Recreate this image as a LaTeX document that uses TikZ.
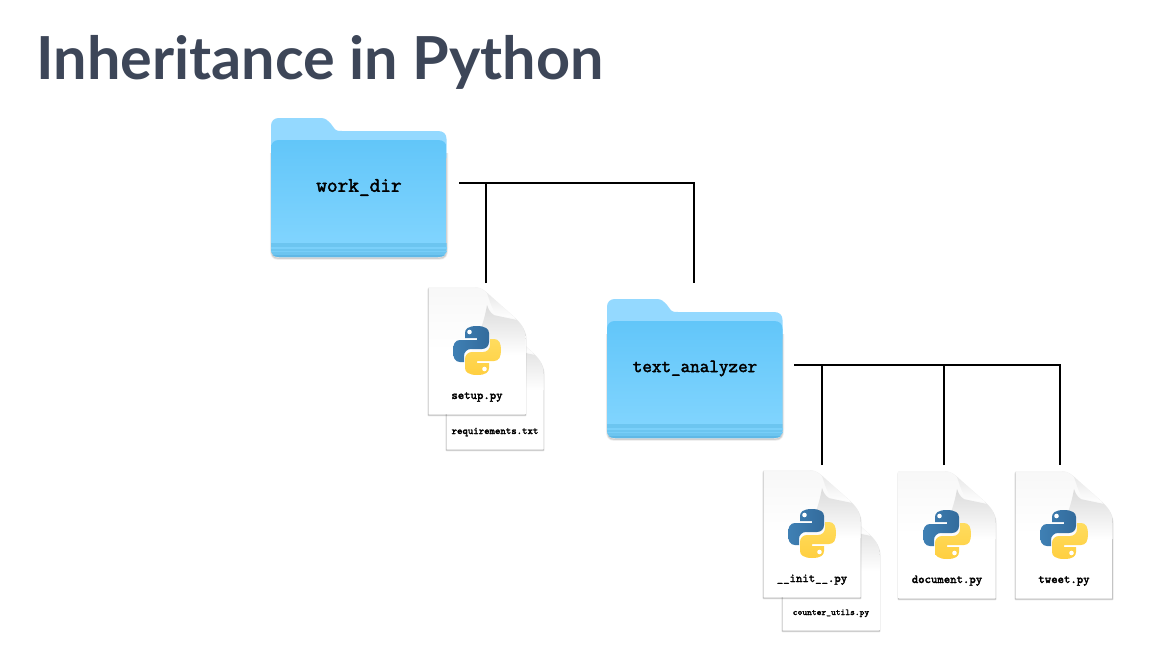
\documentclass[tikz,border=0pt]{standalone}
\usepackage{fontspec}
\setmainfont{Lato}
\newfontfamily\codefont{Latin Modern Mono}[Scale=1.143,FakeBold=2.2]
\usetikzlibrary{calc}
\definecolor{titlecol}{HTML}{3D4658}
\definecolor{folderback}{HTML}{94D9FF}
\definecolor{foldertop}{HTML}{62C6F9}
\definecolor{folderbot}{HTML}{80D4FE}
\definecolor{folderstripe}{HTML}{6CC5F0}
\definecolor{folderstripeb}{HTML}{5FB8E6}
\definecolor{pyblue}{HTML}{336B9C}
\definecolor{pybluel}{HTML}{3F80B4}
\definecolor{pyyellow}{HTML}{FFCF40}
\definecolor{pyyellowl}{HTML}{FFDC5E}
\tikzset{
  connector/.style={draw=black,line width=1.4pt},
  foldernode/.style={inner sep=0pt,minimum width=132pt,minimum height=104.25pt,text=black},
  filenode/.style={inner sep=0pt,minimum width=73.5pt,minimum height=95.25pt},
  filelabel/.style={inner sep=0pt,text=black,anchor=base},
}
\newcommand{\filepath}{(0.5,2) .. controls (0.5,0.6) and (0.9,0) .. (2,0) -- (45,0) .. controls (52,0) and (56,3) .. (59,6) -- (87,31) .. controls (94,38) and (97.5,44) .. (97.5,52) -- (97.5,127) -- (0.5,127) -- cycle}
\newcommand{\fileshape}{%
  \foreach \w/\o in {2.4/.05,1.6/.07,0.8/.12}{\draw[line width=\w*0.75pt,black,opacity=\o,line join=round,yshift=-0.9pt] \filepath;}
  \shade[top color=black!3,bottom color=white,middle color=white] \filepath;
  \shade[top color=black!14,bottom color=white] (59,18) .. controls (61,25) and (65,29) .. (70,29) -- (89,33) .. controls (94,38) and (97.5,44) .. (97.5,52) -- (97.5,68) -- (42,68) .. controls (50,50) and (56,36) .. (59,18) -- cycle;
  \shade[top color=black!9,bottom color=white] (59,6) -- (87,31) .. controls (81,30) and (75,30) .. (70,28) .. controls (63,22) and (62,14) .. (59,6) -- cycle;
}
\newcommand{\pylogo}{%
  \begin{scope}[shift={(25,39)}]
    \shade[left color=pybluel,right color=pyblue]
      (24,0) .. controls (15,0) and (12,3) .. (12,7) -- (12,12) -- (24,12) -- (24,14) -- (7,14)
      .. controls (2,14) and (0,18) .. (0,25) .. controls (0,32) and (2,36) .. (7,36) -- (11,36) -- (11,30)
      .. controls (11,26) and (14,23) .. (18,23) -- (29,23) .. controls (33,23) and (36,20) .. (36,16)
      -- (36,7) .. controls (36,3) and (32,0) .. (24,0) -- cycle;
    \fill[white] (16.5,6) circle (2.3);
    \shade[top color=pyyellowl,bottom color=pyyellow]
      (24,49) .. controls (33,49) and (36,46) .. (36,42) -- (36,37) -- (24,37) -- (24,35) -- (41,35)
      .. controls (46,35) and (48,31) .. (48,24) .. controls (48,17) and (46,13) .. (41,13) -- (37,13) -- (37,19)
      .. controls (37,23) and (34,26) .. (30,26) -- (19,26) .. controls (15,26) and (12,29) .. (12,33)
      -- (12,42) .. controls (12,46) and (16,49) .. (24,49) -- cycle;
    \fill[white] (31.5,43) circle (2.3);
  \end{scope}
}
\newcommand{\folderat}[5]{%
  \begin{scope}[shift={(#2,#3)}]
    \foreach \w/\o in {3.5/.04,2.4/.06,1.2/.09}{\draw[line width=\w*0.75pt,black,opacity=\o,line join=round,yshift=-0.9pt] (0.5,34) -- (0.5,129) .. controls (0.5,136) and (2,139) .. (7,139) -- (168,139) .. controls (174,139) and (175.5,136) .. (175.5,129) -- (175.5,34);}
    \fill[folderback] (0,8) .. controls (0,3) and (3,0) .. (8,0) -- (50,0) .. controls (55,0) and (57,3) .. (60,6) -- (63,10) .. controls (65,13) and (67,13) .. (71,13) -- (167,13) .. controls (172.5,13) and (175.5,16) .. (175.5,21) -- (175.5,40) -- (0,40) -- cycle;
    \shade[top color=foldertop,bottom color=folderbot] (0,30) .. controls (0,25) and (3,22) .. (8,22) -- (167,22) .. controls (172.5,22) and (175.5,25) .. (175.5,30) -- (175.5,125) -- (0,125) -- cycle;
    \fill[folderstripe] (0,125) -- (175.5,125) -- (175.5,132) .. controls (175.5,136) and (172.5,139) .. (167,139) -- (8,139) .. controls (3,139) and (0,136) .. (0,132) -- cycle;
    \fill[folderbot!70!folderstripe] (0,129) rectangle (175.5,130.5);
    \fill[folderbot!60!folderstripe] (0,133) rectangle (175.5,134.2);
    \fill[folderstripeb] (1.5,137) .. controls (3,138.4) and (5,139) .. (8,139) -- (167,139) .. controls (170,139) and (172.5,138.4) .. (174,137) -- cycle;
    \node[foldernode,font=\codefont\fontsize{#5}{#5}\selectfont] (#1) at (88,69.5) {#4};
  \end{scope}
}
\newcommand{\fileat}[6]{%
  \begin{scope}[shift={(#2,#3)}]
    \fileshape
    #6
    \node[filenode] (#1) at (49,63.5) {};
    \node[filelabel,font=\codefont\fontsize{#5}{#5}\selectfont] (#1-label) at (#1.center |- 0,112) {#4};
  \end{scope}
}
\begin{document}
\begin{tikzpicture}[x=0.75pt,y=-0.75pt]
  \useasboundingbox (0,0) rectangle (1172,664);
  \fill[white] (0,0) rectangle (1172,664);
  \node[inner sep=0pt,anchor=base west,text=titlecol,font=\bfseries\fontsize{44.5}{50}\selectfont] (title) at (36.5,79) {Inheritance in Python};

  \folderat{workdir}{271}{118}{work\_dir}{13.6}
  \folderat{textanalyzer}{607}{299}{text\_analyzer}{12.2}

  \fileat{requirements}{446}{322}{requirements.txt}{6.7}{}
  \fileat{setup}{428}{287}{setup.py}{8}{\pylogo}
  \fileat{counter}{782}{503}{counter\_utils.py}{5.9}{}
  \fileat{init}{763}{470}{\_\_init\_\_.py}{8}{\pylogo}
  \fileat{document}{898}{471}{document.py}{8}{\pylogo}
  \fileat{tweet}{1015}{471}{tweet.py}{8}{\pylogo}

  \coordinate (wd-out) at (459,183);
  \coordinate (wd-setup) at (486,283);
  \coordinate (wd-ta) at (694,283);
  \coordinate (ta-out) at (794,365);
  \coordinate (ta-init) at (822,465);
  \coordinate (ta-doc) at (944,465);
  \coordinate (ta-tweet) at (1060,465);
  \draw[connector] (wd-out) -| (wd-ta);
  \draw[connector] (wd-setup) |- (wd-out);
  \draw[connector] (ta-out) -| (ta-tweet);
  \draw[connector] (ta-init) |- (ta-out);
  \draw[connector] (ta-doc) |- (ta-out);
\end{tikzpicture}
\end{document}
